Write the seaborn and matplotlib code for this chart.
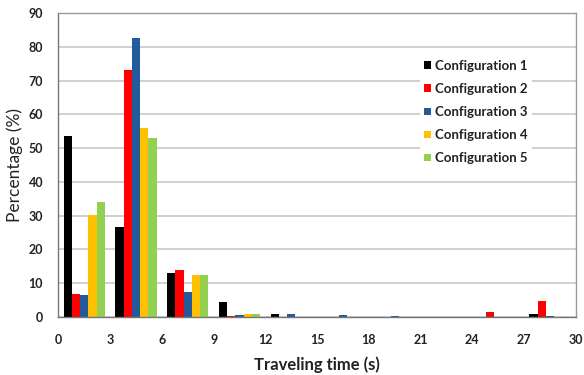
import matplotlib
matplotlib.use("Agg")
import matplotlib.pyplot as plt
import seaborn as sns
import pandas as pd
from matplotlib.patches import Patch

bin_centers = [1.5, 4.5, 7.5, 10.5, 13.5, 16.5, 19.5, 22.5, 25.5, 28.5]
configs = ["Configuration 1", "Configuration 2", "Configuration 3",
           "Configuration 4", "Configuration 5"]
config1 = [53.7, 26.5, 13.0, 4.3, 1.0, 0.0, 0.0, 0.0, 0.0, 0.8]
config2 = [6.8, 73.0, 14.0, 0.3, 0.0, 0.0, 0.0, 0.0, 1.4, 4.6]
config3 = [6.5, 82.5, 7.5, 0.5, 0.8, 0.5, 0.3, 0.0, 0.0, 0.3]
config4 = [30.3, 56.0, 12.5, 0.8, 0.0, 0.0, 0.0, 0.0, 0.0, 0.0]
config5 = [34.0, 53.0, 12.5, 0.8, 0.0, 0.0, 0.0, 0.0, 0.0, 0.0]
colors = ["#000000", "#FF0000", "#235A9C", "#FFC000", "#92D050"]
xticks = list(range(0, 31, 3))
yticks = list(range(0, 91, 10))

rows = []
for name, vals in zip(configs, [config1, config2, config3, config4, config5]):
    for x, v in zip(bin_centers, vals):
        rows.append({"time": x, "pct": v, "config": name})
df = pd.DataFrame(rows)

sns.set_style("white")
plt.rcParams['font.family'] = ['Lato', 'DejaVu Sans']

fig = plt.figure(figsize=(5.84, 3.75), dpi=100)
ax = fig.add_axes([0.100, 0.155, 0.886, 0.81])

sns.barplot(data=df, x="time", y="pct", hue="config", hue_order=configs,
            palette=colors, native_scale=True, width=0.8, ax=ax,
            errorbar=None, saturation=1, legend=False, linewidth=0)

ax.set_xlim(0, 30)
ax.set_ylim(0, 90)
ax.set_xticks(xticks)
ax.set_xticklabels([str(t) for t in xticks], fontweight="bold", fontsize=9, color="#222222")
ax.set_yticks(yticks)
ax.set_yticklabels([str(t) for t in yticks], fontweight="bold", fontsize=9, color="#222222")
ax.yaxis.grid(True, color="#C8C8C8", linewidth=1.2)
ax.set_axisbelow(True)
for s in ["top", "right"]:
    ax.spines[s].set_color("#999999")
    ax.spines[s].set_linewidth(1.0)
for s in ["left", "bottom"]:
    ax.spines[s].set_color("#777777")
    ax.spines[s].set_linewidth(1.0)
ax.tick_params(axis="both", direction="out", length=4, width=1, color="#777777")
ax.tick_params(axis="x", pad=8)
ax.tick_params(axis="y", pad=7)

ax.set_xlabel("Traveling time (s)", fontweight="bold", fontsize=12, labelpad=8, color="#222222")
ax.set_ylabel("Percentage (%)", fontsize=12.5, labelpad=4, color="#222222")

handles = [Patch(facecolor=c, edgecolor="none") for c in colors]
leg = ax.legend(handles, configs, loc="upper left", bbox_to_anchor=(0.687, 0.881),
                frameon=True, facecolor="white", edgecolor="none", framealpha=1,
                fancybox=False, handlelength=0.5, handleheight=0.5,
                handletextpad=0.3, labelspacing=0.84, borderpad=0.3,
                prop={"weight": "bold", "size": 9.5})
for t in leg.get_texts():
    t.set_color("#222222")

fig.savefig("out.png", dpi=100)
